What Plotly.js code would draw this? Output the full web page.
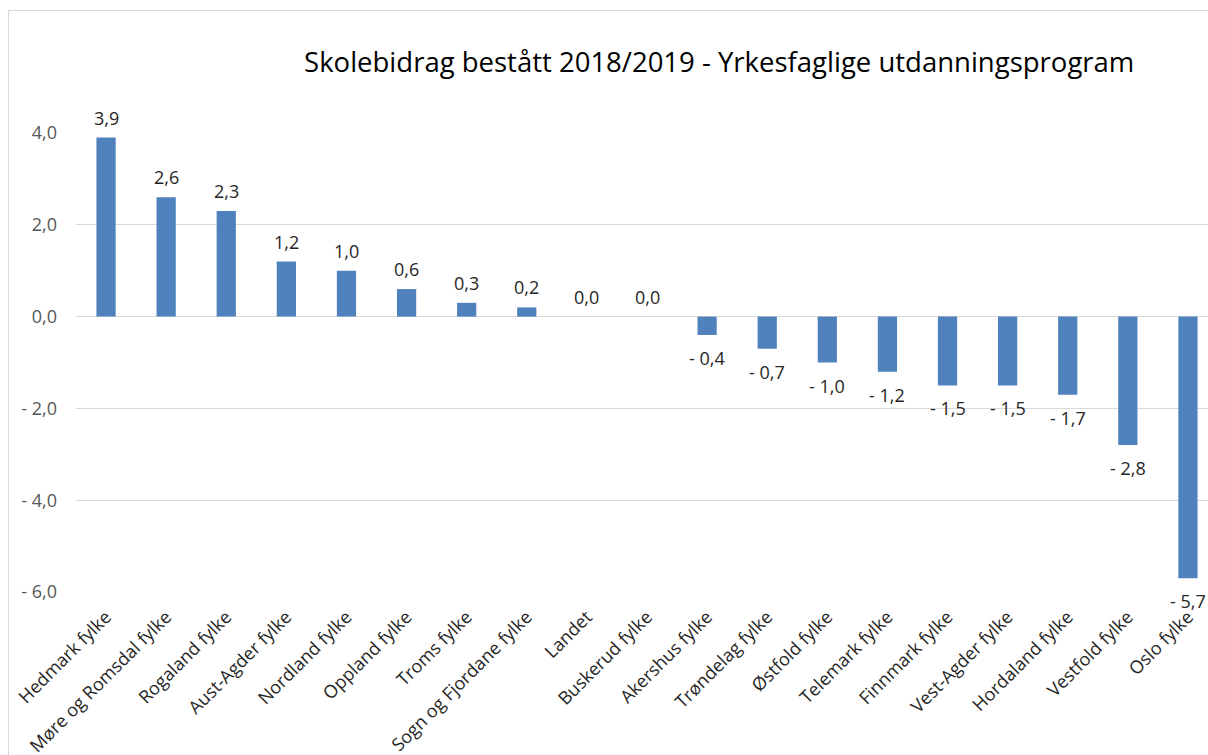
<!DOCTYPE html>
<html>
<head>
<meta charset="utf-8">
<script src="https://cdn.plot.ly/plotly-3.0.1.min.js"></script>
<style>
  html, body { margin:0; padding:0; background:#fff; overflow:hidden; width:1208px; height:755px; }
  #chart { position:absolute; left:0; top:0; width:1240px; height:780px; }
  #frame { position:absolute; left:8px; top:10px; width:1300px; height:900px; border-left:1px solid #d9d9d9; border-top:1px solid #d9d9d9; pointer-events:none; }
</style>
</head>
<body>
<div id="chart"></div>
<div id="frame"></div>
<script>
const categories = ["Hedmark fylke","Møre og Romsdal fylke","Rogaland fylke","Aust-Agder fylke","Nordland fylke","Oppland fylke","Troms fylke","Sogn og Fjordane fylke","Landet","Buskerud fylke","Akershus fylke","Trøndelag fylke","Østfold fylke","Telemark fylke","Finnmark fylke","Vest-Agder fylke","Hordaland fylke","Vestfold fylke","Oslo fylke"];
const values = [3.9, 2.6, 2.3, 1.2, 1.0, 0.6, 0.3, 0.2, 0.0, 0.0, -0.4, -0.7, -1.0, -1.2, -1.5, -1.5, -1.7, -2.8, -5.7];
const yTickVals = [-6, -4, -2, 0, 2, 4];
const yTickText = ["- 6,0", "- 4,0", "- 2,0", "0,0", "2,0", "4,0"];
const chartTitle = "Skolebidrag bestått 2018/2019 - Yrkesfaglige utdanningsprogram";

function fmt(v) {
  const s = Math.abs(v).toFixed(1).replace('.', ',');
  return v < 0 ? "- " + s : s;
}

const trace = {
  type: 'bar',
  x: categories,
  y: values,
  marker: { color: '#4F81BD' },
  hoverinfo: 'x+y'
};

const labelAnnotations = categories.map((c, i) => ({
  x: c,
  y: values[i],
  xref: 'x', yref: 'y',
  text: fmt(values[i]),
  showarrow: false,
  xanchor: 'center',
  yanchor: 'middle',
  yshift: values[i] < 0 ? -23 : 20,
  font: { family: 'Open Sans, sans-serif', size: 18, color: '#262626' }
}));

const layout = {
  width: 1240,
  height: 780,
  margin: { l: 76, r: 22, t: 133, b: 188 },
  paper_bgcolor: '#ffffff',
  plot_bgcolor: '#ffffff',
  showlegend: false,
  bargap: 0.68,
  font: { family: 'Open Sans, sans-serif', color: '#404040' },
  title: {
    text: chartTitle,
    font: { family: 'Open Sans, sans-serif', size: 27.5, color: '#000000' },
    xref: 'container', yref: 'container',
    x: 0.58, xanchor: 'center',
    y: 1 - 62/780, yanchor: 'middle'
  },
  xaxis: {
    type: 'category',
    tickangle: -45,
    tickfont: { family: 'Open Sans, sans-serif', size: 18, color: '#262626' },
    showgrid: false,
    showline: false,
    ticks: '',
    zeroline: false,
    ticklabelstandoff: 10
  },
  yaxis: {
    range: [-6, 4],
    tickvals: yTickVals,
    ticktext: yTickText,
    tickfont: { family: 'Open Sans, sans-serif', size: 18, color: '#595959' },
    showgrid: true,
    gridcolor: '#d9d9d9',
    gridwidth: 1,
    zeroline: true,
    zerolinecolor: '#d9d9d9',
    zerolinewidth: 1,
    showline: false,
    ticks: '',
    ticklabelstandoff: 18
  },
  annotations: labelAnnotations
};

Plotly.newPlot('chart', [trace], layout, { displayModeBar: false, staticPlot: true });
</script>
</body>
</html>
